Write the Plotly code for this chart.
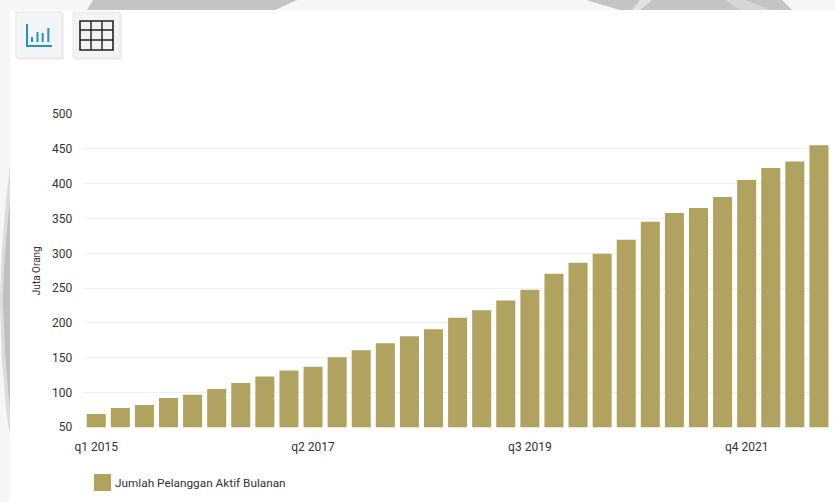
import plotly.graph_objects as go

# Quarterly monthly-active subscribers, in millions
quarters = [f"q{q} {y}" for y in range(2015, 2023) for q in (1, 2, 3, 4)][:31]
subscribers = [69, 77.6, 82, 92, 96.6, 105, 113.6, 123, 131.6, 137, 150.5, 160.5, 170.6, 180.7, 190.8,
               207.5, 218, 232, 247.7, 270.7, 286.5, 299.5, 319.6, 345.5, 357.8, 365, 381, 405.4,
               422.7, 432, 455.3]
x_ticks = ["q1 2015", "q2 2017", "q3 2019", "q4 2021"]
y_ticks = [50, 100, 150, 200, 250, 300, 350, 400, 450, 500]
series_name = "Jumlah Pelanggan Aktif Bulanan"
y_title = "Juta Orang"

W, H = 835, 502
BAR = "#b0a35f"
TEXT = "#333333"
ICON_BLUE = "#2a8fc0"


def fx(v):
    return v / W


def fy(v):
    return 1 - v / H


def path(points):
    return "M " + " L ".join(f"{fx(a):.5f},{fy(b):.5f}" for a, b in points) + " Z"


def box(x0, y0, x1, y1, fill, line=None, width=0, layer="below"):
    return dict(type="rect", xref="paper", yref="paper", x0=fx(x0), x1=fx(x1), y0=fy(y1), y1=fy(y0),
                fillcolor=fill, line=dict(color=line or fill, width=width), layer=layer)


def stroke(x0, y0, x1, y1, color, width):
    return dict(type="line", xref="paper", yref="paper", x0=fx(x0), x1=fx(x1), y0=fy(y0), y1=fy(y1),
                line=dict(color=color, width=width), layer="above")


def poly(points, fill):
    return dict(type="path", xref="paper", yref="paper", path=path(points), fillcolor=fill,
                line=dict(width=0), layer="below")


shapes = [
    # faint page backdrop showing around the card
    poly([(93, 0), (297, 0), (275, 10), (87, 10)], "#c4c4c4"),
    poly([(586, 0), (782, 0), (792, 10), (620, 10)], "#c4c4c4"),
    poly([(640, 0), (652, 0), (640, 10), (632, 10)], "#e2e2e2"),
    poly([(725, 0), (745, 0), (770, 10), (740, 10)], "#d6d6d6"),
    poly([(10, 165), (6, 200), (2, 250), (0, 300), (2, 360), (6, 410), (10, 436)], "#dcdcdc"),
    poly([(10, 200), (7, 230), (4, 270), (3, 300), (5, 350), (8, 390), (10, 410)], "#c0c0c0"),
    box(10, 10, W, H, "#ffffff"),
    # view-switch buttons
    box(18, 14, 64, 60, "#efefef"),
    box(75, 14, 122, 60, "#efefef"),
    box(16, 12, 62, 58, "#f3f4f5", "#e8e8e8", 1),
    box(73, 12, 120, 58, "#f3f3f3", "#e8e8e8", 1),
    # chart icon
    stroke(27, 24, 27, 46, ICON_BLUE, 2),
    stroke(26, 46, 52, 46, ICON_BLUE, 2),
    stroke(32, 37, 32, 42, ICON_BLUE, 2),
    stroke(37.5, 32, 37.5, 42, ICON_BLUE, 2),
    stroke(42.7, 33, 42.7, 42, ICON_BLUE, 2),
    stroke(48.3, 28, 48.3, 42, ICON_BLUE, 2),
    # table icon
    box(80, 21, 113, 50, "rgba(0,0,0,0)", "#222222", 1.6, "above"),
    stroke(91, 21, 91, 50, "#222222", 1.4),
    stroke(102, 21, 102, 50, "#222222", 1.4),
    stroke(80, 30, 113, 30, "#222222", 1.4),
    stroke(80, 40, 113, 40, "#222222", 1.4),
    # legend swatch
    box(94, 474, 111, 491, BAR, layer="above"),
]

fig = go.Figure(go.Bar(x=quarters, y=subscribers, name=series_name, marker=dict(color=BAR, line=dict(width=0))))

fig.update_layout(
    width=W, height=H, margin=dict(l=0, r=0, t=0, b=0, autoexpand=False),
    paper_bgcolor="#f6f6f6", plot_bgcolor="rgba(0,0,0,0)",
    bargap=0.21, showlegend=False, shapes=shapes,
    font=dict(family="Roboto", size=12, color=TEXT),
    annotations=[dict(text=series_name, xref="paper", yref="paper", x=fx(112.5), y=fy(482.5),
                      xanchor="left", yanchor="middle", showarrow=False,
                      font=dict(family="Roboto", size=11.8, color=TEXT))],
    xaxis=dict(domain=[fx(84.2), fx(831)], range=[-0.5, 30.5], type="category",
               categoryorder="array", categoryarray=quarters,
               tickmode="array", tickvals=x_ticks, ticktext=x_ticks,
               showgrid=False, zeroline=False, showline=False, ticks="", ticklabelstandoff=11,
               tickangle=0),
    yaxis=dict(domain=[fy(427.2), fy(114.2)], range=[50, 500], tickmode="array", tickvals=y_ticks,
               showgrid=True, gridcolor="#f0f0f0", gridwidth=1, zeroline=False, showline=False,
               ticks="", ticklabelstandoff=11,
               title=dict(text=y_title, standoff=9, font=dict(family="Roboto", size=10, color=TEXT))),
)

fig.write_html("out.html", config=dict(displayModeBar=False))
